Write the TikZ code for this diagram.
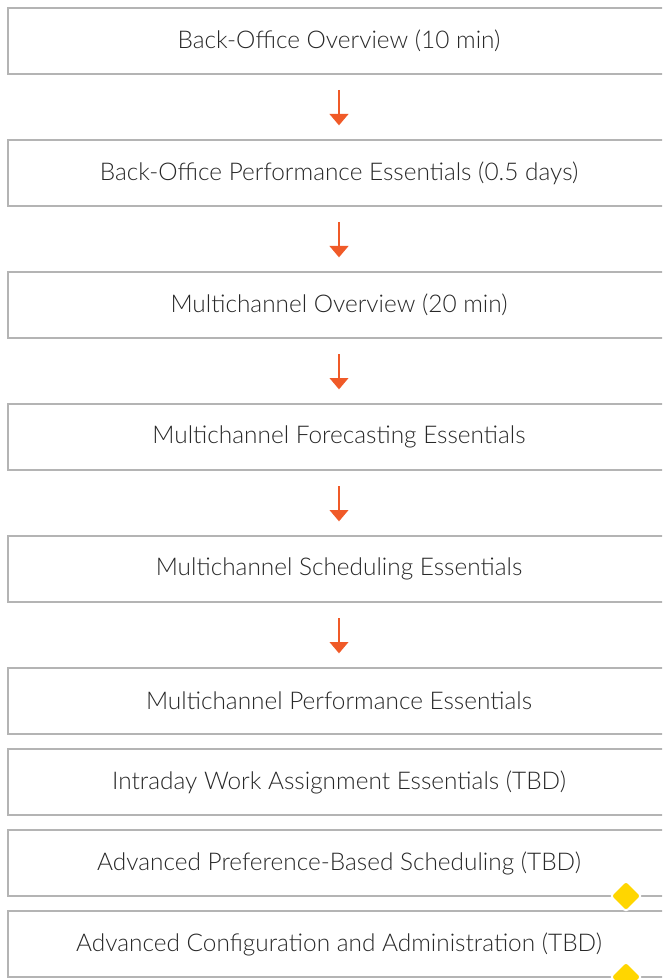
\documentclass[tikz,border=0pt]{standalone}
\usepackage{fontspec}
\setmainfont{Lato}[UprightFont=* Light]
\usetikzlibrary{arrows.meta,positioning,shapes.geometric}
\definecolor{boxgray}{RGB}{180,180,180}
\definecolor{textgray}{RGB}{40,40,40}
\definecolor{flowarrow}{RGB}{240,90,40}
\definecolor{gemyellow}{RGB}{255,214,0}

\tikzset{
  course/.style={draw=boxgray, line width=1.5pt, fill=white, outer sep=0pt,
    minimum width=496.5pt, minimum height=49.5pt, inner sep=0pt,
    text=textgray, font=\fontsize{18.3}{21}\selectfont},
  nextstep/.style={-{Triangle[width=14pt,length=8.5pt]}, flowarrow, line width=1.5pt,
    shorten <=12pt, shorten >=11pt},
  gem/.style={diamond, fill=gemyellow, draw=white, line width=1.5pt,
    rounded corners=2.5pt, inner sep=0pt, minimum width=24pt, minimum height=24pt}
}

\begin{document}
\begin{tikzpicture}
    \useasboundingbox (0,0) rectangle (496.5pt,-735pt);
    \clip (0,0) rectangle (496.5pt,-735pt);
    % main track
    \node[course, anchor=north west] (c1) at (6pt,-6pt) {Back-Office Overview (10 min)};
    \node[course, below=49.5pt of c1] (c2) {Back-Office Performance Essentials (0.5 days)};
    \node[course, below=49.5pt of c2] (c3) {Multichannel Overview (20 min)};
    \node[course, below=49.5pt of c3] (c4) {Multichannel Forecasting Essentials};
    \node[course, below=49.5pt of c4] (c5) {Multichannel Scheduling Essentials};
    \node[course, below=49.5pt of c5] (c6) {Multichannel Performance Essentials};
    % optional courses
    \node[course, below=11.25pt of c6] (c7) {Intraday Work Assignment Essentials (TBD)};
    \node[course, below=11.25pt of c7] (c8) {Advanced Preference-Based Scheduling (TBD)};
    \node[course, below=11.25pt of c8] (c9) {Advanced Configuration and Administration (TBD)};
    \foreach \a/\b in {c1/c2,c2/c3,c3/c4,c4/c5,c5/c6} {
        \draw[nextstep] (\a.south) -- (\b.north);
    }
    \node[gem] (g8) at ([xshift=-33pt]c8.south east) {};
    \node[gem] (g9) at ([xshift=-33pt]c9.south east) {};
\end{tikzpicture}
\end{document}
